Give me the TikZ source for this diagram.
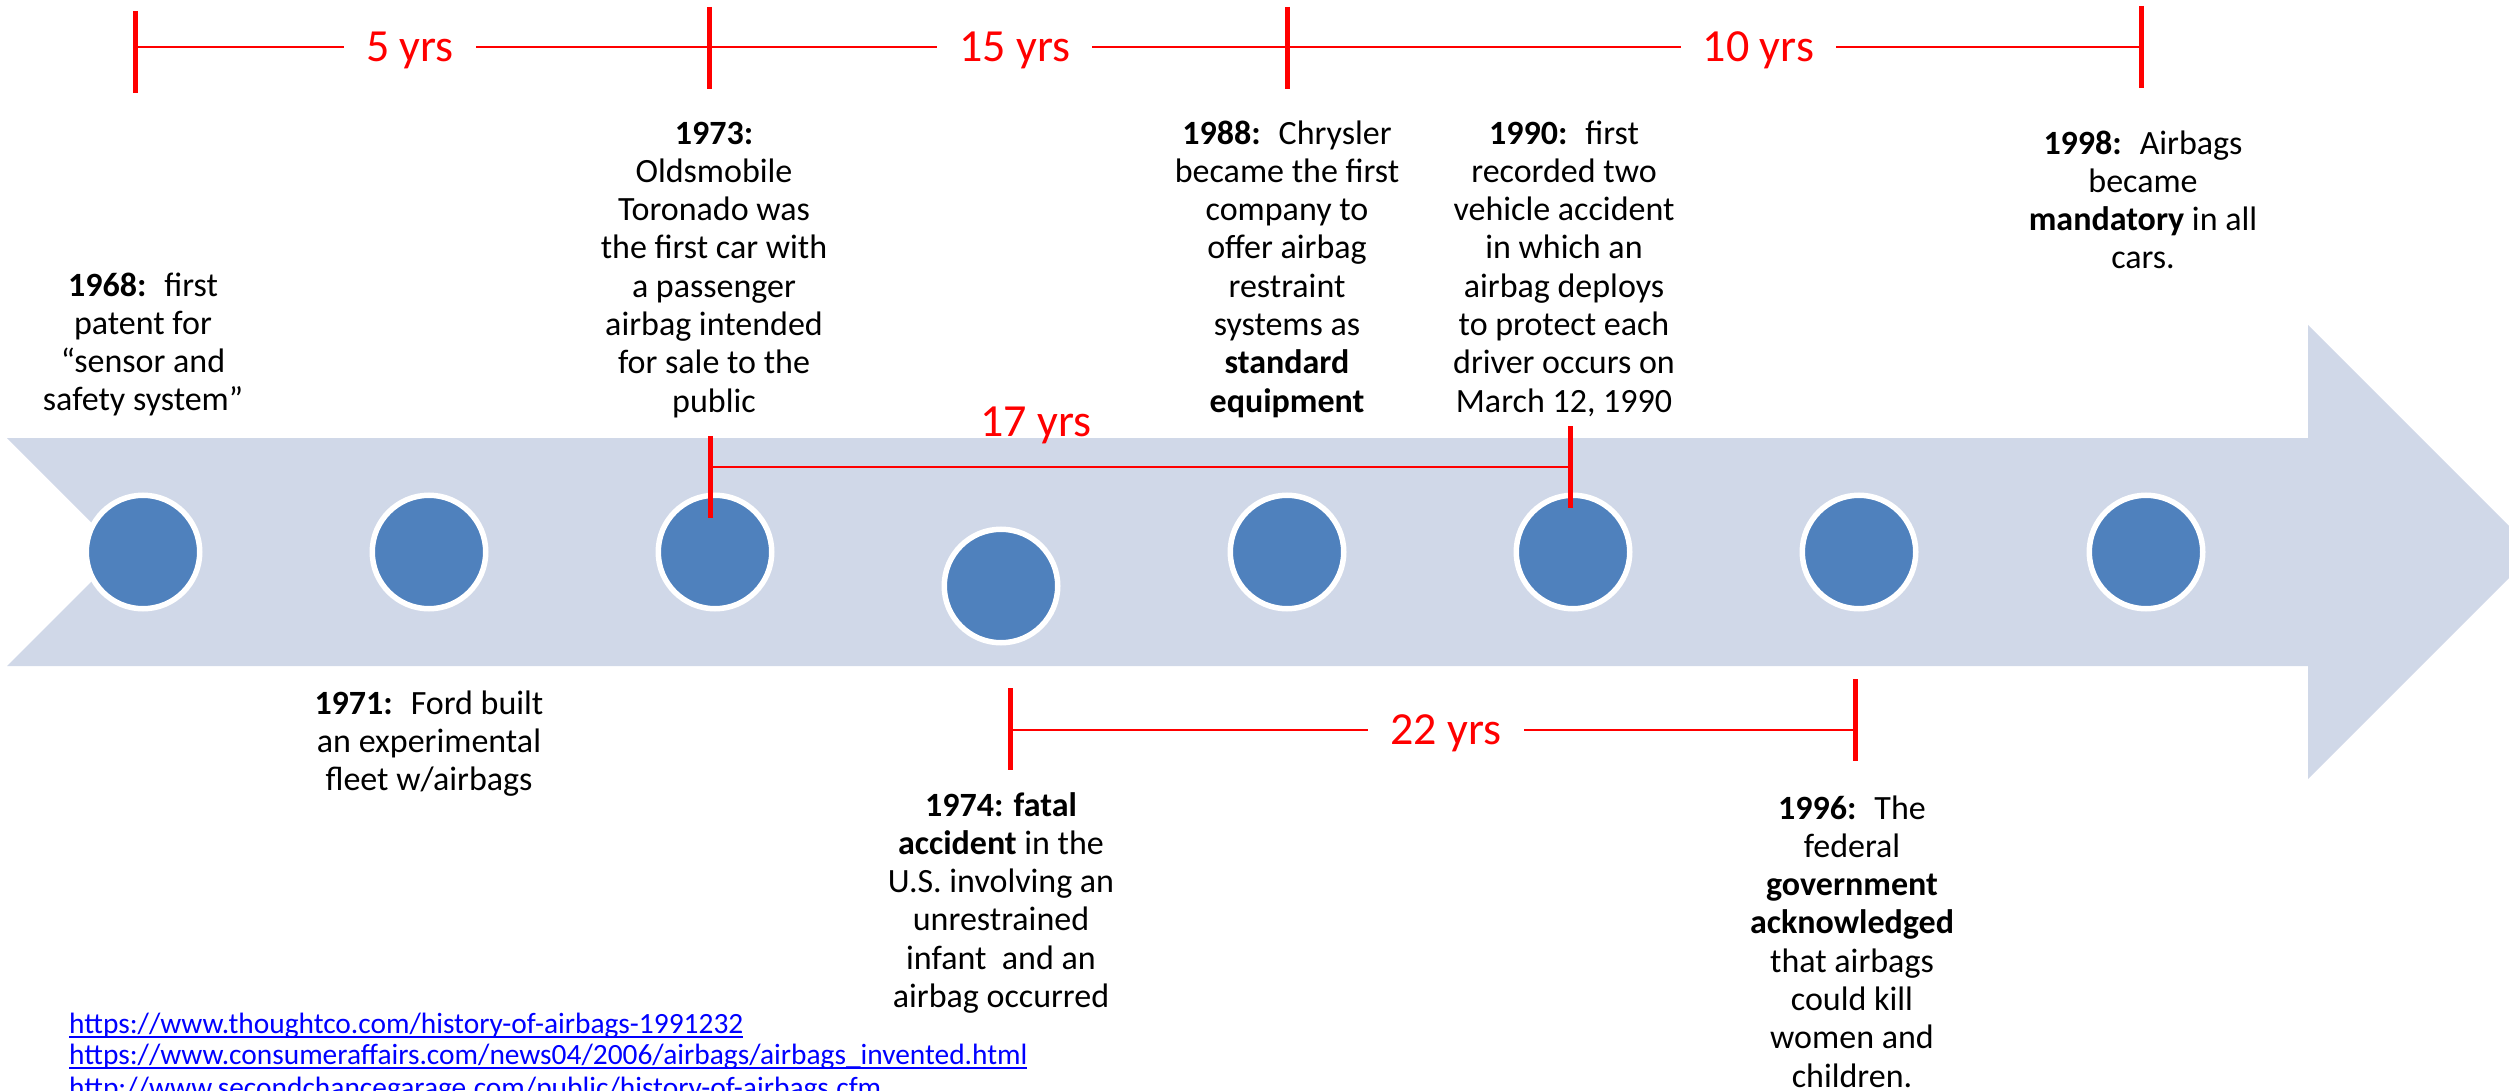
\documentclass[tikz,border=0pt]{standalone}
\usepackage{fontspec}
\setmainfont{Carlito}
\usetikzlibrary{positioning}
\definecolor{bandblue}{RGB}{208,216,232}
\definecolor{dotblue}{RGB}{79,129,189}
\definecolor{linkblue}{RGB}{0,0,255}
\newcommand{\yr}[1]{\strut\textbf{#1:}}
\newcommand{\weblink}[1]{\setbox0\hbox{#1}\rlap{\raisebox{-5pt}{\rule{\wd0}{2pt}}}\box0}

\begin{document}
\begin{tikzpicture}[x=1pt,y=-1pt,
   evdot/.style={circle,fill=dotblue,draw=white,line width=5.5pt,
                 minimum size=113.5pt,inner sep=0pt},
   evt/.style={anchor=north,align=center,inner sep=0pt,
               font=\fontsize{34}{38.3}\selectfont},
   yrs/.style={text=red,inner xsep=22pt,inner ysep=0pt,text height=29pt,
               text depth=0pt,font=\fontsize{46}{50}\selectfont},
   rtick/.style={draw=red,line width=5pt},
   rspan/.style={draw=red,line width=2.5pt},
   web/.style={anchor=base west,inner sep=0pt,text=linkblue,
               font=\fontsize{29.4}{31}\selectfont}]
  \useasboundingbox (0,0) rectangle (2509,1091);
  % timeline band
  \fill[bandblue] (7,438) -- (2308,438) -- (2308,325) -- (2535,552)
     -- (2308,779) -- (2308,666) -- (7,666) -- (121,552) -- cycle;
  % event dots
  \node[evdot] (c1) at (143,552) {};
  \node[evdot] (c2) at (429,552) {};
  \node[evdot] (c3) at (715,552) {};
  \node[evdot] (c4) at (1001,586) {};
  \node[evdot] (c5) at (1287,552) {};
  \node[evdot] (c6) at (1573,552) {};
  \node[evdot] (c7) at (1859,552) {};
  \node[evdot] (c8) at (2146,552) {};
  % events above
  \node[evt] (t68) at (143,269) {\yr{1968}~ first\\patent for\\``sensor and\\safety system''};
  \node[evt] (t73) at (714,117) {\yr{1973}\\Oldsmobile\\Toronado was\\the first car with\\a passenger\\airbag intended\\for sale to the\\public};
  \node[evt] (t88) at (1287,117) {\yr{1988}~ Chrysler\\became the first\\company to\\offer airbag\\restraint\\systems as\\\textbf{standard}\\\textbf{equipment}};
  \node[evt] (t90) at (1564,117) {\yr{1990}~ first\\recorded two\\vehicle accident\\in which an\\airbag deploys\\to protect each\\driver occurs on\\March 12, 1990};
  \node[evt] (t98) at (2143,127) {\yr{1998}~ Airbags\\became\\\textbf{mandatory} in all\\cars.};
  % events below
  \node[evt] (t71) at (429,687) {\yr{1971}~ Ford built\\an experimental\\fleet w/airbags};
  \node[evt] (t74) at (1001,789) {\yr{1974} \textbf{fatal}\\\textbf{accident} in the\\U.S. involving an\\unrestrained\\infant~ and an\\airbag occurred};
  \node[evt] (t96) at (1852,792) {\yr{1996}~ The\\federal\\\textbf{government}\\\textbf{acknowledged}\\that airbags\\could kill\\women and\\children.};
  % top span marks
  \coordinate (m68) at (135,47);
  \coordinate (m73) at (709,47);
  \coordinate (m88) at (1287,47);
  \coordinate (m98) at (2141,47);
  \draw[rspan] (m68) -- node[yrs,fill=white,pos=.479] {5 yrs} (m73);
  \draw[rspan] (m73) -- node[yrs,fill=white,pos=.529] {15 yrs} (m88);
  \draw[rspan] (m88) -- node[yrs,fill=white,pos=.552] {10 yrs} (m98);
  \draw[rtick] (m68) ++(0,-36) -- ++(0,82);
  \draw[rtick] (m73) ++(0,-40) -- ++(0,82);
  \draw[rtick] (m88) ++(0,-40) -- ++(0,82);
  \draw[rtick] (m98) ++(0,-41) -- ++(0,82);
  % 17 yrs span
  \coordinate (s73) at (710,467);
  \coordinate (s90) at (1570,467);
  \draw[rspan] (s73) -- (s90);
  \draw[rtick] (s73) ++(0,-31) -- ++(0,82);
  \draw[rtick] (s90) ++(0,-41) -- ++(0,82);
  \node[yrs,anchor=base] (l17) at (1036,436) {17 yrs};
  % 22 yrs span
  \coordinate (s74) at (1010,730);
  \coordinate (s96) at (1855,730);
  \draw[rspan] (s74) -- node[yrs,fill=white,pos=.516] {22 yrs} (s96);
  \draw[rtick] (s74) ++(0,-42) -- ++(0,82);
  \draw[rtick] (s96) ++(0,-51) -- ++(0,82);
  % sources
  \node[web] (w1) at (69,1033) {\weblink{https://www.thoughtco.com/history-of-airbags-1991232}};
  \node[web] (w2) at (69,1064) {\weblink{https://www.consumeraffairs.com/news04/2006/airbags/airbags\_invented.html}};
  \node[web] (w3) at (69,1097) {\weblink{http://www.secondchancegarage.com/public/history-of-airbags.cfm}};
\end{tikzpicture}
\end{document}
